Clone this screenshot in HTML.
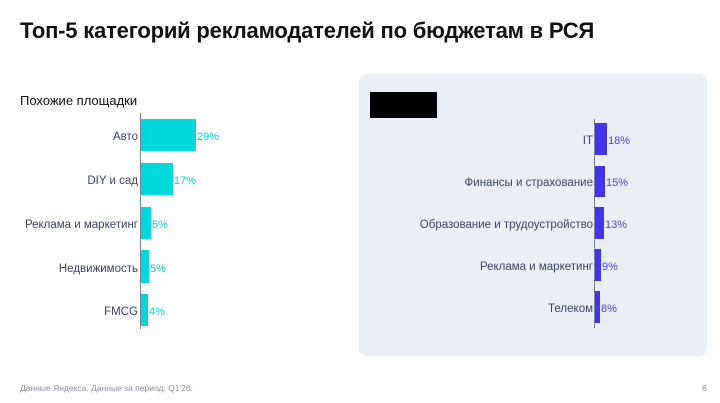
<!DOCTYPE html><html><head><meta charset="utf-8"><style>
body{margin:0;width:720px;height:403px;background:#fff;position:relative;overflow:hidden;font-family:"Liberation Sans",sans-serif}
.a{position:absolute;white-space:nowrap}
.l{font-size:11.5px;color:#3d4466;text-align:right}
.v{font-size:11px}
.b{position:absolute}
</style></head><body>
<div class="a" style="left:20px;top:18px;font-size:22px;font-weight:bold;color:#111;letter-spacing:-0.2px">Топ-5 категорий рекламодателей по бюджетам в РСЯ</div>
<div class="a" style="left:20px;top:93px;font-size:13px;color:#111">Похожие площадки</div>
<div class="b" style="left:140px;top:113px;width:1px;height:216px;background:#7a7f99"></div>
<div class="b" style="left:141px;top:119px;width:55px;height:32px;background:#00d8dc"></div>
<div class="b" style="left:141px;top:163px;width:32px;height:32px;background:#00d8dc"></div>
<div class="b" style="left:141px;top:207px;width:10px;height:32px;background:#00d8dc"></div>
<div class="b" style="left:141px;top:250px;width:8px;height:33px;background:#00d8dc"></div>
<div class="b" style="left:141px;top:294px;width:7px;height:32px;background:#00d8dc"></div>
<div class="a l" style="right:582px;top:131px">Авто</div>
<div class="a l" style="right:582px;top:175px">DIY и сад</div>
<div class="a l" style="right:582px;top:219px">Реклама и маркетинг</div>
<div class="a l" style="right:582px;top:263px">Недвижимость</div>
<div class="a l" style="right:582px;top:306px">FMCG</div>
<div class="a v" style="left:197px;top:131px;color:#00d0d6">29%</div>
<div class="a v" style="left:174px;top:175px;color:#00d0d6">17%</div>
<div class="a v" style="left:152px;top:219px;color:#00d0d6">5%</div>
<div class="a v" style="left:150px;top:263px;color:#00d0d6">5%</div>
<div class="a v" style="left:149px;top:306px;color:#00d0d6">4%</div>
<div class="b" style="left:359px;top:74px;width:348px;height:282px;background:#eceef6;border-radius:8px"></div>
<div class="b" style="left:370px;top:92px;width:67px;height:26px;background:#000"></div>
<div class="b" style="left:594px;top:119px;width:1px;height:209px;background:#7a7f99"></div>
<div class="b" style="left:595px;top:123px;width:12px;height:32px;background:#4434f0"></div>
<div class="b" style="left:595px;top:166px;width:10px;height:31px;background:#4434f0"></div>
<div class="b" style="left:595px;top:207px;width:9px;height:32px;background:#4434f0"></div>
<div class="b" style="left:595px;top:249px;width:6px;height:32px;background:#4434f0"></div>
<div class="b" style="left:595px;top:291px;width:5px;height:32px;background:#4434f0"></div>
<div class="a l" style="right:127px;top:135px">IT</div>
<div class="a l" style="right:127px;top:177px">Финансы и страхование</div>
<div class="a l" style="right:127px;top:219px">Образование и трудоустройство</div>
<div class="a l" style="right:127px;top:261px">Реклама и маркетинг</div>
<div class="a l" style="right:127px;top:303px">Телеком</div>
<div class="a v" style="left:608px;top:135px;color:#4a3cf0">18%</div>
<div class="a v" style="left:606px;top:177px;color:#4a3cf0">15%</div>
<div class="a v" style="left:605px;top:219px;color:#4a3cf0">13%</div>
<div class="a v" style="left:602px;top:261px;color:#4a3cf0">9%</div>
<div class="a v" style="left:601px;top:303px;color:#4a3cf0">8%</div>
<div class="a" style="left:20px;top:383px;font-size:8.5px;color:#8a8fa6">Данные Яндекса. Данные за период: Q1'26.</div>
<div class="a" style="left:702px;top:383px;font-size:8.5px;color:#8a8fa6">6</div>
</body></html>
